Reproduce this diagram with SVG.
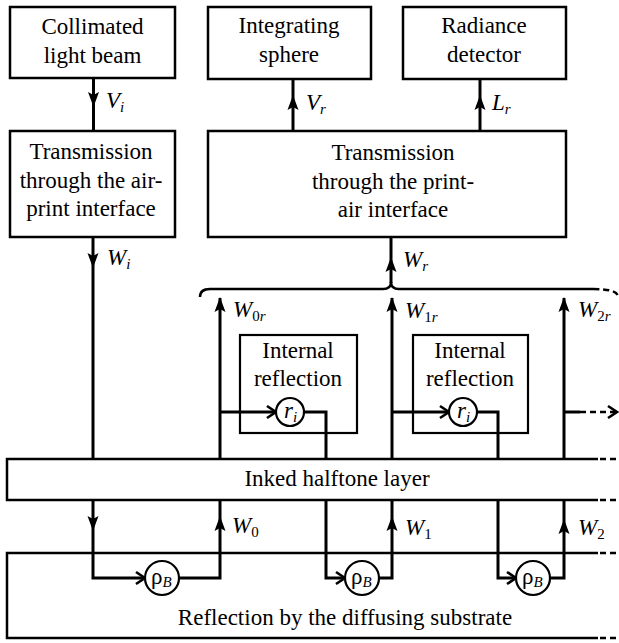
<svg xmlns="http://www.w3.org/2000/svg" xmlns:xlink="http://www.w3.org/1999/xlink" width="619" height="643" viewBox="0 0 619 643" font-family="'Liberation Serif', 'DejaVu Serif', serif">
<style>
.box{fill:#fff;stroke:#000;stroke-width:2.5}
.ibox{fill:none;stroke:#000;stroke-width:2.2}
.ln{fill:none;stroke:#000;stroke-width:3}
.dash{fill:none;stroke:#000;stroke-width:2.5;stroke-dasharray:6 4}
.circ{fill:#fff;stroke:#000;stroke-width:2.2}
.chev{fill:none;stroke:#000;stroke-width:2.6;stroke-linejoin:miter}
text{font-family:'Liberation Serif','DejaVu Serif',serif}
.t{font-size:23px;fill:#000;text-anchor:middle}
.lab{font-size:23px;fill:#000;font-style:italic}
.sub{font-size:15px}
.up{font-style:normal}
</style>
<defs>
<path id="ah" d="M0,0 L-5.5,15 L0,12 L5.5,15 Z" fill="#000"/>
<path id="ch" d="M-9,-6 L0,0 L-9,6" class="chev"/>
</defs>

<g id="connectors">
  <line class="ln" x1="93.5" y1="78" x2="93.5" y2="131"/>
  <use xlink:href="#ah" transform="translate(93.5,107) rotate(180)"/>
  <line class="ln" x1="293" y1="79" x2="293" y2="131"/>
  <use xlink:href="#ah" transform="translate(293,95)"/>
  <line class="ln" x1="480" y1="79" x2="480" y2="131"/>
  <use xlink:href="#ah" transform="translate(480,95)"/>
  <line class="ln" x1="93" y1="237" x2="93" y2="459"/>
  <use xlink:href="#ah" transform="translate(93,268) rotate(180)"/>
  <line class="ln" x1="391" y1="237" x2="391" y2="283"/>
  <use xlink:href="#ah" transform="translate(391,257)"/>
  <path class="ln" style="stroke-width:2.5" d="M200,297 Q200,289 210,289 H383 Q391,289 391,282 Q391,289 399,289 H593"/>
  <path class="dash" d="M593,289 Q618,289 618,297"/>
  <line class="ln" x1="220" y1="459" x2="220" y2="298"/>
  <use xlink:href="#ah" transform="translate(220,297)"/>
  <line class="ln" x1="392" y1="459" x2="392" y2="298"/>
  <use xlink:href="#ah" transform="translate(392,297)"/>
  <line class="ln" x1="564" y1="459" x2="564" y2="298"/>
  <use xlink:href="#ah" transform="translate(564,297)"/>
  <path class="ln" d="M220,412 H276"/>
  <use xlink:href="#ch" transform="translate(276,412)"/>
  <path class="ln" d="M304,412 H326 V459"/>
  <path class="ln" d="M392,412 H449"/>
  <use xlink:href="#ch" transform="translate(449,412)"/>
  <path class="ln" d="M477,412 H498 V459"/>
  <path class="ln" d="M564,412 H580"/>
  <path class="dash" d="M580,412 H615"/>
  <use xlink:href="#ch" transform="translate(617,412)"/>
  <path class="ln" d="M93,500 V578 H145"/>
  <use xlink:href="#ah" transform="translate(93,531) rotate(180)"/>
  <use xlink:href="#ch" transform="translate(145,578)"/>
  <path class="ln" d="M179,578 H220 V500"/>
  <use xlink:href="#ah" transform="translate(220,516)"/>
  <path class="ln" d="M326,500 V578 H345"/>
  <use xlink:href="#ch" transform="translate(345,578)"/>
  <path class="ln" d="M379,578 H392 V500"/>
  <use xlink:href="#ah" transform="translate(392,516)"/>
  <path class="ln" d="M498,500 V578 H516"/>
  <use xlink:href="#ch" transform="translate(516,578)"/>
  <path class="ln" d="M550,578 H564 V500"/>
  <use xlink:href="#ah" transform="translate(564,519)"/>
</g>

<g id="labels">
  <text class="lab" x="106" y="108">V<tspan class="sub" dy="4">i</tspan></text>
  <text class="lab" x="107" y="265">W<tspan class="sub" dy="4">i</tspan></text>
  <text class="lab" x="306" y="110">V<tspan class="sub" dy="4">r</tspan></text>
  <text class="lab" x="492" y="110">L<tspan class="sub" dy="4">r</tspan></text>
  <text class="lab" x="403" y="267">W<tspan class="sub" dy="4">r</tspan></text>
  <text class="lab" x="233" y="317">W<tspan class="sub up" dy="4">0</tspan><tspan class="sub">r</tspan></text>
  <text class="lab" x="405" y="318">W<tspan class="sub up" dy="4">1</tspan><tspan class="sub">r</tspan></text>
  <text class="lab" x="578" y="317">W<tspan class="sub up" dy="4">2</tspan><tspan class="sub">r</tspan></text>
  <text class="lab" x="232" y="533">W<tspan class="sub up" dy="4">0</tspan></text>
  <text class="lab" x="405" y="535">W<tspan class="sub up" dy="4">1</tspan></text>
  <text class="lab" x="578" y="535">W<tspan class="sub up" dy="4">2</tspan></text>
</g>

<g id="collimated">
  <rect class="box" x="10" y="7" width="165" height="71"/>
  <text class="t" x="92.5" y="34">Collimated</text>
  <text class="t" x="92.5" y="63">light beam</text>
</g>
<g id="integrating-sphere">
  <rect class="box" x="208" y="7" width="163" height="72"/>
  <text class="t" x="289" y="33">Integrating</text>
  <text class="t" x="289" y="62">sphere</text>
</g>
<g id="radiance-detector">
  <rect class="box" x="403" y="7" width="163" height="72"/>
  <text class="t" x="484" y="33">Radiance</text>
  <text class="t" x="484" y="62">detector</text>
</g>
<g id="air-print">
  <rect class="box" x="10" y="131" width="165" height="106"/>
  <text class="t" x="91" y="159">Transmission</text>
  <text class="t" x="91" y="188">through the air-</text>
  <text class="t" x="91" y="216">print interface</text>
</g>
<g id="print-air">
  <rect class="box" x="208" y="131" width="358" height="106"/>
  <text class="t" x="393" y="160">Transmission</text>
  <text class="t" x="393" y="189">through the print-</text>
  <text class="t" x="393" y="217">air interface</text>
</g>
<g id="internal-1">
  <rect class="ibox" x="240" y="335" width="117" height="98"/>
  <text class="t" x="298" y="358">Internal</text>
  <text class="t" x="298" y="386">reflection</text>
</g>
<g id="internal-2">
  <rect class="ibox" x="413" y="335" width="115" height="98"/>
  <text class="t" x="470" y="358">Internal</text>
  <text class="t" x="470" y="386">reflection</text>
</g>
<g id="ri-1">
  <circle class="circ" cx="290" cy="412" r="14"/>
  <text class="lab" x="284" y="418">r<tspan class="sub" dy="4">i</tspan></text>
</g>
<g id="ri-2">
  <circle class="circ" cx="463" cy="412" r="14"/>
  <text class="lab" x="457" y="418">r<tspan class="sub" dy="4">i</tspan></text>
</g>
<g id="inked-layer">
  <path class="box" style="fill:none" d="M598,459 H7 V500 H598"/>
  <path class="dash" d="M600,459 H619 M600,500 H619"/>
  <text class="t" x="337" y="486">Inked halftone layer</text>
</g>
<g id="substrate">
  <path class="box" style="fill:none" d="M598,553 H7 V638 H598"/>
  <path class="dash" d="M600,553 H619 M600,638 H619"/>
  <text class="t" x="345" y="625">Reflection by the diffusing substrate</text>
</g>
<g id="rhoB-1">
  <circle class="circ" cx="162" cy="578" r="17"/>
  <text class="lab" x="151" y="584"><tspan class="up">ρ</tspan><tspan class="sub" dy="3">B</tspan></text>
</g>
<g id="rhoB-2">
  <circle class="circ" cx="362" cy="578" r="17"/>
  <text class="lab" x="351" y="584"><tspan class="up">ρ</tspan><tspan class="sub" dy="3">B</tspan></text>
</g>
<g id="rhoB-3">
  <circle class="circ" cx="533" cy="578" r="17"/>
  <text class="lab" x="522" y="584"><tspan class="up">ρ</tspan><tspan class="sub" dy="3">B</tspan></text>
</g>
</svg>
